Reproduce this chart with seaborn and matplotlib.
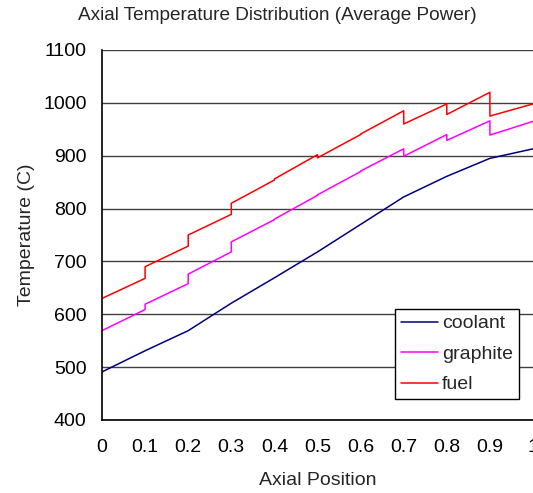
import matplotlib
matplotlib.use("Agg")
import matplotlib.pyplot as plt
import seaborn as sns
import pandas as pd

# ---- data ----
positions = [0.0, 0.1, 0.2, 0.3, 0.4, 0.5, 0.6, 0.7, 0.8, 0.9, 1.0]
coolant = [491, 531, 569, 621, 669, 718, 770, 822, 861, 895, 913]
graphite_start = [569, 619, 676, 737, 780, 826, 871, 899, 929, 939]
graphite_end = [609, 658, 718, 779, 825, 870, 913, 940, 966, 965]
fuel_start = [630, 690, 750, 810, 856, 896, 941, 960, 978, 975]
fuel_end = [668, 729, 789, 854, 902, 940, 985, 998, 1020, 998]
series_names = ["coolant", "graphite", "fuel"]
colors = ["#000080", "#ff00ff", "#ff0000"]
x_ticks = [0, 0.1, 0.2, 0.3, 0.4, 0.5, 0.6, 0.7, 0.8, 0.9, 1]
x_tick_labels = ["0", "0.1", "0.2", "0.3", "0.4", "0.5", "0.6", "0.7", "0.8", "0.9", "1"]
y_ticks = [400, 500, 600, 700, 800, 900, 1000, 1100]

rows = []
for x, v in zip(positions, coolant):
    rows.append(("coolant", x, v))
for name, starts, ends in (("graphite", graphite_start, graphite_end),
                           ("fuel", fuel_start, fuel_end)):
    for i in range(len(starts)):
        rows.append((name, positions[i], starts[i]))
        rows.append((name, positions[i + 1], ends[i]))
df = pd.DataFrame(rows, columns=["series", "pos", "temp"])

sns.set_style("white")
plt.rcParams["font.family"] = ["Liberation Sans", "DejaVu Sans"]

FS = 14
fig = plt.figure(figsize=(5.33, 4.93), dpi=100)
ax = fig.add_axes([102 / 533, 73 / 493, 431 / 533, 370 / 493])

sns.lineplot(data=df, x="pos", y="temp", hue="series", hue_order=series_names,
             palette=colors, sort=False, estimator=None, linewidth=1.1, ax=ax)

ax.set_xlim(0, 1)
ax.set_ylim(400, 1100)
ax.set_xticks(x_ticks)
ax.set_xticklabels(x_tick_labels)
ax.set_yticks(y_ticks)
ax.yaxis.grid(True, color="#404040", linewidth=1.0)
ax.set_axisbelow(True)
for s in ("top", "right"):
    ax.spines[s].set_visible(False)
for s in ("left", "bottom"):
    ax.spines[s].set_color("black")
    ax.spines[s].set_linewidth(1.2)
ax.tick_params(axis="both", direction="in", length=4, width=1, color="black",
               labelsize=FS, labelcolor="black")
ax.tick_params(axis="y", pad=11)
ax.tick_params(axis="x", pad=14)

ax.set_xlabel("Axial Position", fontsize=FS, labelpad=11)
ax.set_ylabel("Temperature (C)", fontsize=FS, labelpad=6)
fig.text(277 / 533, 1 - 15 / 493, "Axial Temperature Distribution (Average Power)",
         ha="center", va="center", fontsize=13.7)

handles, labels = ax.get_legend_handles_labels()
leg = ax.legend(handles, labels, loc="upper left",
                bbox_to_anchor=(395 / 533, 1 - 309 / 493), bbox_transform=fig.transFigure,
                borderaxespad=0, frameon=True, fancybox=False, edgecolor="black",
                framealpha=1, fontsize=FS, handlelength=1.9, handletextpad=0.2,
                labelspacing=0.66, borderpad=0.3)
leg.get_frame().set_linewidth(1.0)

fig.savefig("out.png", dpi=100)
